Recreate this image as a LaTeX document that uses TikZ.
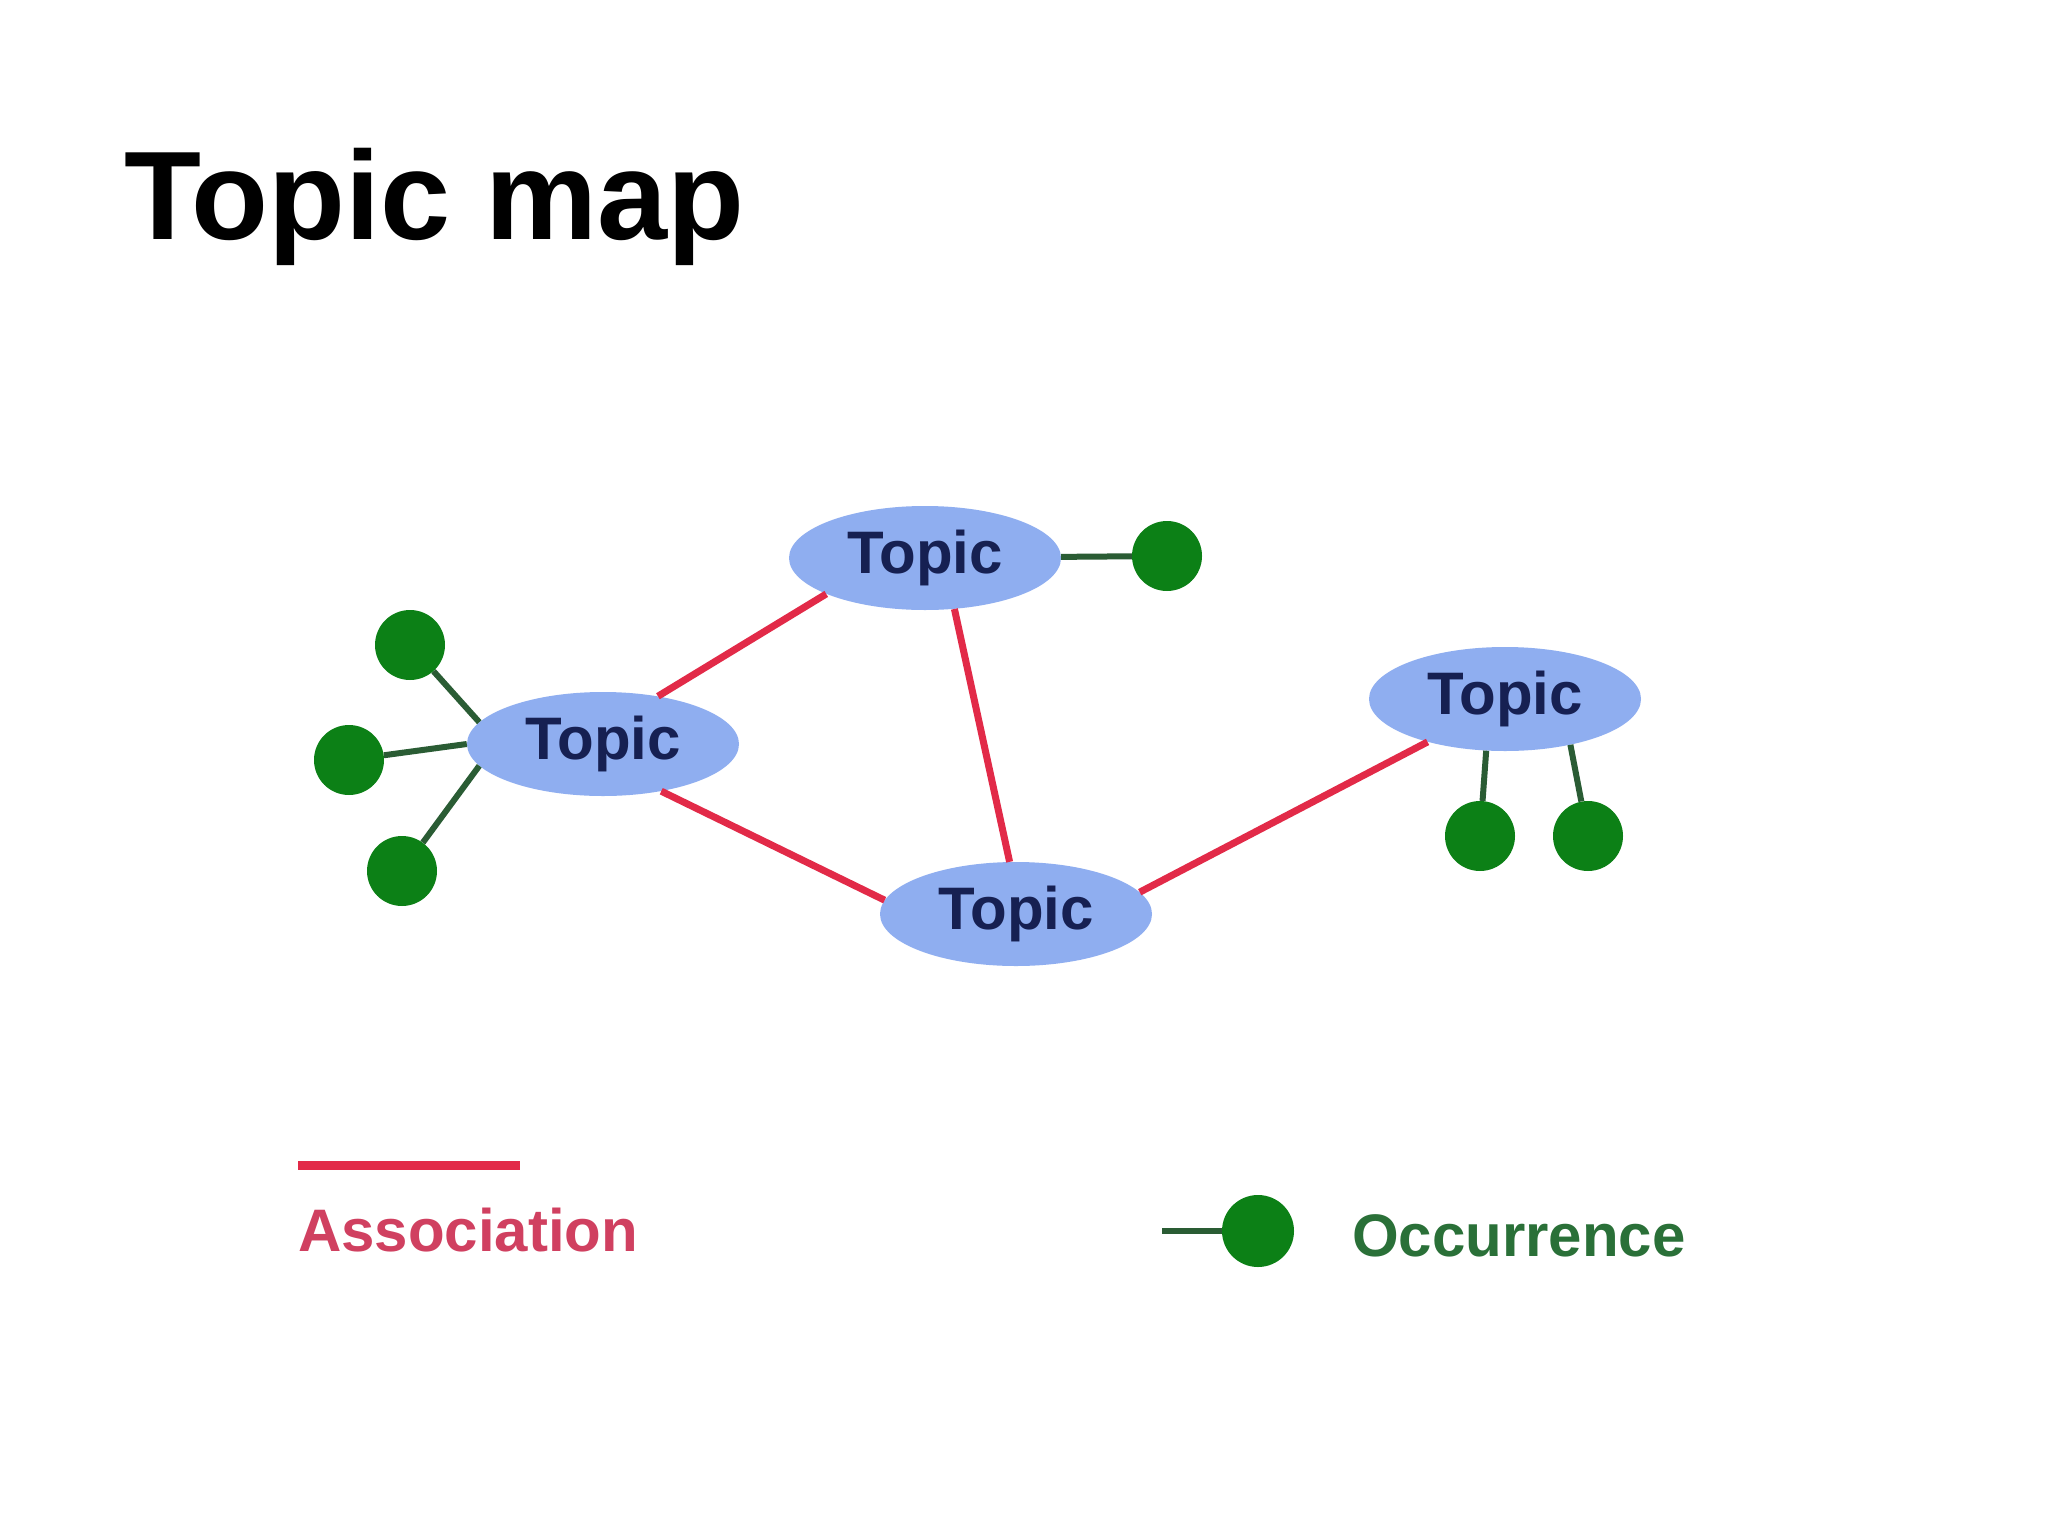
\documentclass[tikz,border=0pt]{standalone}
\usepackage{fontspec}
\setmainfont{Liberation Sans}
\usetikzlibrary{shapes.geometric}
\definecolor{topicfill}{RGB}{143,174,240}
\definecolor{topictext}{RGB}{22,32,82}
\definecolor{assoc}{RGB}{226,42,72}
\definecolor{assoctext}{RGB}{208,64,96}
\definecolor{occfill}{RGB}{12,128,22}
\definecolor{occline}{RGB}{42,92,52}
\definecolor{occtext}{RGB}{42,112,56}
\tikzset{
  topic/.style={ellipse, fill=topicfill, minimum width=272pt, minimum height=104pt, inner sep=0pt,
    font=\fontsize{60pt}{60pt}\selectfont\bfseries, text=topictext},
  occ/.style={circle, fill=occfill, minimum size=70pt, inner sep=0pt},
  assocline/.style={draw=assoc, line width=7pt},
  occconn/.style={draw=occline, line width=6pt},
}
\begin{document}
\begin{tikzpicture}[x=1pt,y=-1pt]
\useasboundingbox[fill=white] (0,0) rectangle (2048,1536);
% title
\node[anchor=base west, inner sep=0pt, font=\fontsize{126pt}{126pt}\selectfont\bfseries] (title) at (124,239) {Topic map};
% topics
\node[topic] (T) at (925,558) {Topic};
\node[topic] (L) at (603,744) {Topic};
\node[topic] (B) at (1016,914) {Topic};
\node[topic] (R) at (1505,699) {Topic};
% occurrences
\node[occ] (t1) at (1167,556) {};
\node[occ] (l1) at (410,645) {};
\node[occ] (l2) at (349,760) {};
\node[occ] (l3) at (402,871) {};
\node[occ] (r1) at (1480,836) {};
\node[occ] (r2) at (1588,836) {};
% associations
\draw[assocline] (L.41) -- (T.200);
\draw[assocline] (T.-60) -- (B.97);
\draw[assocline] (L.-39) -- (B.174);
\draw[assocline] (B.10) -- (R.209);
% occurrence links
\draw[occconn] (T) -- (t1);
\draw[occconn] (l1) -- (L.170);
\draw[occconn] (l2) -- (L.180);
\draw[occconn] (l3) -- (L.190);
\draw[occconn] (r1) -- (R.250);
\draw[occconn] (r2) -- (R.-35);
% legend
\coordinate (a1) at (298,1165);
\coordinate (a2) at (520,1165);
\draw[assocline, line width=9pt] (a1) -- (a2);
\node[anchor=base west, inner sep=0pt, font=\fontsize{60pt}{60pt}\selectfont\bfseries, text=assoctext] (assoclabel) at (298,1251) {Association};
\node[occ, minimum size=72pt] (legocc) at (1258,1231) {};
\coordinate (o0) at (1162,1231);
\draw[occconn] (o0) -- (legocc);
\node[anchor=base west, inner sep=0pt, font=\fontsize{60pt}{60pt}\selectfont\bfseries, text=occtext] (occlabel) at (1352,1256) {Occurrence};
\end{tikzpicture}
\end{document}
